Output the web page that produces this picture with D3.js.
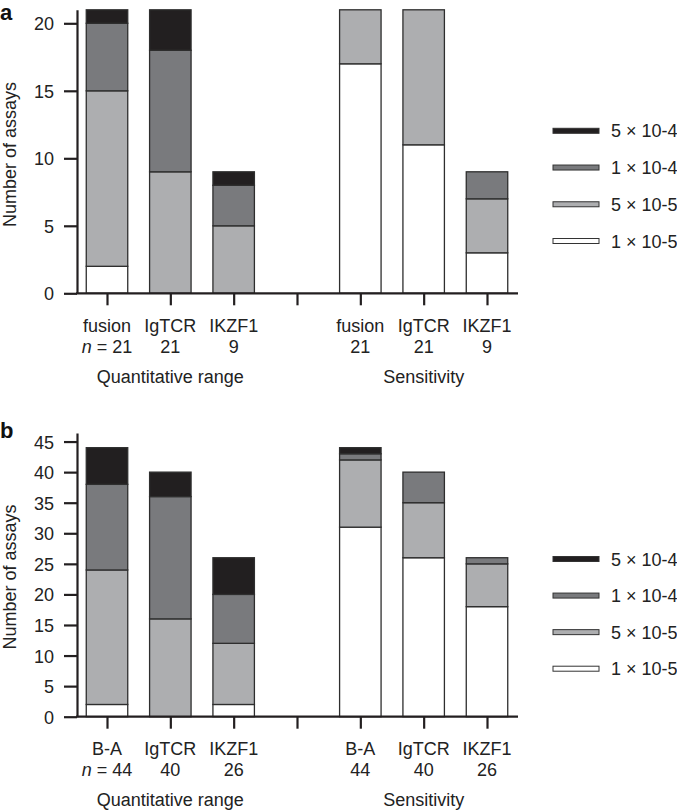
<!DOCTYPE html>
<html><head><meta charset="utf-8">
<script src="https://cdn.jsdelivr.net/npm/d3@7"></script>
<style>
body{margin:0;background:#fff}
svg{display:block;font-family:"Liberation Sans",Arial,Helvetica,sans-serif}
</style>
</head><body><svg id="c" width="677" height="811"></svg>
<script>
// ---------- data ----------
const slots = ["q1","q2","q3","gap","s1","s2","s3"];
const levels = ["1 × 10-5","5 × 10-5","1 × 10-4","5 × 10-4"];
const levelColors = ["#ffffff","#adaeb0","#797a7d","#221f20"];
const groups = ["Quantitative range","Sensitivity"];

// Panel a
const aNames  = ["fusion","IgTCR","IKZF1","","fusion","IgTCR","IKZF1"];
const aCounts = ["21","21","9","","21","21","9"];
const a1e5 = [2, 0, 0, 0, 17, 11, 3];
const a5e5 = [13, 9, 5, 0, 4, 10, 4];
const a1e4 = [5, 9, 3, 0, 0, 0, 2];
const a5e4 = [1, 3, 1, 0, 0, 0, 0];
const aTicks = [0, 5, 10, 15, 20];

// Panel b
const bNames  = ["B-A","IgTCR","IKZF1","","B-A","IgTCR","IKZF1"];
const bCounts = ["44","40","26","","44","40","26"];
const b1e5 = [2, 0, 2, 0, 31, 26, 18];
const b5e5 = [22, 16, 10, 0, 11, 9, 7];
const b1e4 = [14, 20, 8, 0, 1, 5, 1];
const b5e4 = [6, 4, 6, 0, 1, 0, 0];
const bTicks = [0, 5, 10, 15, 20, 25, 30, 35, 40, 45];

// ---------- drawing ----------
const svg = d3.select("#c");
const INK = "#231f20";
const FS = 18;

function panel(cfg) {
  const g = svg.append("g");
  const x = d3.scalePoint().domain(slots).range([107, 487]);
  const step = x.step();
  const bw = step * 0.655;
  const y = d3.scaleLinear().domain([0, cfg.axisMax]).range([cfg.y0, cfg.yTop]);

  const rows = slots.map((s, i) => {
    const r = {slot: s};
    levels.forEach((l, j) => r[l] = cfg.series[j][i]);
    return r;
  });
  const stack = d3.stack().keys(levels)(rows);

  stack.forEach((layer, j) => {
    g.append("g").selectAll("rect")
      .data(layer.filter(d => d[1] - d[0] > 0))
      .join("rect")
      .attr("x", d => x(d.data.slot) - bw / 2)
      .attr("width", bw)
      .attr("y", d => y(d[1]))
      .attr("height", d => y(d[0]) - y(d[1]))
      .attr("fill", levelColors[j])
      .attr("stroke", "#2e2e2e")
      .attr("stroke-width", 1.3);
  });

  // y axis
  const ya = g.append("g").attr("transform", `translate(77,0)`)
    .call(d3.axisLeft(y).tickValues(cfg.ticks).tickSize(13).tickSizeOuter(0).tickPadding(10));
  ya.select(".domain").attr("stroke", INK).attr("stroke-width", 2.2);
  ya.selectAll(".tick line").attr("stroke", INK).attr("stroke-width", 2.2);
  ya.selectAll(".tick text").attr("font-size", FS).attr("fill", "#222").attr("font-family", null).attr("dy", "0.36em");

  // x axis
  g.append("line").attr("x1", 76).attr("x2", 518).attr("y1", cfg.y0).attr("y2", cfg.y0)
    .attr("stroke", INK).attr("stroke-width", 2.2);
  const xa = g.append("g").attr("transform", `translate(0,${cfg.y0})`)
    .call(d3.axisBottom(x).tickSize(12).tickFormat(""));
  xa.select(".domain").remove();
  xa.selectAll(".tick line").attr("stroke", INK).attr("stroke-width", 2.2);

  // category labels
  const lab = g.append("g").attr("font-size", FS).attr("fill", "#222").attr("text-anchor", "middle");
  lab.selectAll("text.nm").data(slots).join("text").attr("class", "nm")
    .attr("x", d => x(d)).attr("y", cfg.y0 + 38.5)
    .text((d, i) => cfg.names[i]);
  lab.selectAll("text.ct").data(slots).join("text").attr("class", "ct")
    .attr("x", d => x(d)).attr("y", cfg.y0 + 59.5)
    .each(function(d, i) {
      const t = d3.select(this);
      if (i === 0) {
        t.append("tspan").attr("font-style", "italic").text("n");
        t.append("tspan").text(" = " + cfg.counts[i]);
      } else t.text(cfg.counts[i]);
    });
  lab.selectAll("text.gr").data(groups).join("text").attr("class", "gr")
    .attr("x", (d, i) => x(slots[i * 4 + 1])).attr("y", cfg.y0 + 89.3)
    .text(d => d);

  // y label
  g.append("text").attr("transform", `translate(16,${cfg.labelY}) rotate(-90)`)
    .attr("text-anchor", "middle").attr("font-size", FS).attr("fill", "#222")
    .text("Number of assays");

  // panel letter
  g.append("text").attr("x", 0).attr("y", cfg.letterY).attr("font-size", 22)
    .attr("font-weight", "bold").attr("fill", "#111").text(cfg.letter);

  // legend
  const ly = d3.scalePoint().domain(levels.slice().reverse()).range(cfg.legendRange);
  const lg = g.append("g");
  levels.forEach((l, j) => {
    lg.append("rect").attr("x", 553).attr("y", ly(l) - 2.5).attr("width", 46).attr("height", 5)
      .attr("fill", levelColors[j]).attr("stroke", "#333").attr("stroke-width", 1);
    lg.append("text").attr("x", 611).attr("y", ly(l) + 6.5).attr("font-size", FS).attr("fill", "#222").text(l);
  });
}

panel({series: [a1e5, a5e5, a1e4, a5e4], names: aNames, counts: aCounts, ticks: aTicks,
       axisMax: 21, y0: 293.3, yTop: 9.8, labelY: 154.5, letter: "a", letterY: 20,
       legendRange: [130.8, 241]});
panel({series: [b1e5, b5e5, b1e4, b5e4], names: bNames, counts: bCounts, ticks: bTicks,
       axisMax: 46.4, y0: 716.7, yTop: 433, labelY: 577, letter: "b", letterY: 438,
       legendRange: [559, 668.7]});
</script>
</body></html>
